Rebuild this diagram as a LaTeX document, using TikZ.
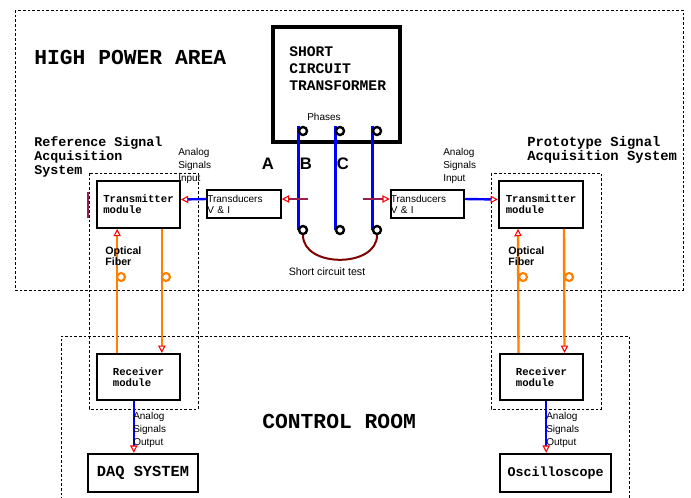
\documentclass[tikz,border=0pt]{standalone}
\usepackage{fontspec}
\setmainfont{Liberation Sans}
\setmonofont{Liberation Mono}
\usetikzlibrary{arrows.meta}
\definecolor{fiberorange}{RGB}{255,128,0}
\definecolor{arcred}{RGB}{128,0,0}
\definecolor{tapred}{RGB}{150,30,80}

\begin{document}
\begin{tikzpicture}[x=0.75pt, y=-0.75pt,
    area/.style={draw, line width=0.6pt, dash pattern=on 2pt off 1.5pt},
    module/.style={draw, line width=1.6pt, fill=white, align=left, inner sep=0pt, font=\ttfamily\bfseries\fontsize{8}{8.5}\selectfont},
    bigbox/.style={draw, line width=1.8pt, fill=white, inner sep=0pt, font=\ttfamily\bfseries},
    transd/.style={draw, line width=1.6pt, fill=white, align=left, inner sep=0pt, text width=55pt, minimum height=21pt, font=\fontsize{7.5}{8.25}\selectfont},
    terminal/.style={circle, draw, line width=1.8pt, fill=white, minimum size=6pt, inner sep=0pt},
    coil/.style={circle, draw=fiberorange, line width=1.6pt, minimum size=6pt, inner sep=0pt},
    phase/.style={blue, line width=1.8pt},
    fiber/.style={fiberorange, line width=1.8pt},
    tap/.style={tapred, line width=0.8pt},
    opentip/.style={-{Triangle[open, length=5.5pt, width=5.5pt, line width=0.8pt, color=red]}},
    note/.style={align=left, inner sep=0pt, font=\fontsize{7.5}{9.75}\selectfont}
]
  \useasboundingbox (0,0) rectangle (691,497);

  % areas
  \draw[area] (15,10) rectangle (683,290);
  \draw[area] (61,500) -- (61,336) -- (629,336) -- (629,500);
  \draw[area] (89,173) rectangle (198,409);
  \draw[area] (491,173) rectangle (601,409);
  \draw[tapred, line width=1pt] (88,192) -- (88,218);

  \node[anchor=west, inner sep=0pt, font=\ttfamily\bfseries\fontsize{16}{18}\selectfont] (hpa) at (34,57) {HIGH POWER AREA};
  \node[anchor=west, inner sep=0pt, font=\ttfamily\bfseries\fontsize{16}{18}\selectfont] (cr) at (262,421) {CONTROL ROOM};
  \node[anchor=west, align=left, inner sep=0pt, font=\ttfamily\bfseries\fontsize{10}{10.5}\selectfont] (refsys) at (34,157) {Reference Signal\\Acquisition\\System};
  \node[anchor=west, align=left, inner sep=0pt, font=\ttfamily\bfseries\fontsize{10.4}{8.5}\selectfont] (protsys) at (527,150) {Prototype Signal\\Acquisition System};

  % transformer and phases
  \node[draw, line width=3pt, minimum width=95pt, minimum height=86pt] (trafo) at (336.5,84.5) {};
  \node[anchor=west, align=left, inner sep=0pt, font=\ttfamily\bfseries\fontsize{11}{12.75}\selectfont] (trafotext) at (289,69) {SHORT\\CIRCUIT\\TRANSFORMER};
  \node[inner sep=0pt, font=\fontsize{7.5}{9}\selectfont] (phases) at (324,117) {Phases};

  \coordinate (ta) at (303,131);
  \coordinate (tb) at (340,131);
  \coordinate (tc) at (377,131);
  \coordinate (ba) at (303,230);
  \coordinate (bb) at (340,230);
  \coordinate (bc) at (377,230);
  \draw[phase] ([xshift=-3.5pt,yshift=4pt]ta) -- ([xshift=-3.5pt]ba);
  \draw[phase] ([xshift=-3.5pt,yshift=4pt]tb) -- ([xshift=-3.5pt]bb);
  \draw[phase] ([xshift=-3.5pt,yshift=4pt]tc) -- ([xshift=-3.5pt]bc);
  \foreach \t in {ta,tb,tc,ba,bb,bc}
    \node[terminal] (\t n) at (\t) {};
  \draw[arcred, line width=1.5pt] (ban.south) .. controls (303,268) and (377,268) .. (bcn.south);

  \node[font=\bfseries\fontsize{12.5}{14}\selectfont, inner sep=0pt] (la) at (268,164) {A};
  \node[font=\bfseries\fontsize{12.5}{14}\selectfont, inner sep=0pt] (lb) at (306,164) {B};
  \node[font=\bfseries\fontsize{12.5}{14}\selectfont, inner sep=0pt] (lc) at (343,164) {C};
  \node[inner sep=0pt, font=\fontsize{8}{9}\selectfont] (sct) at (327,272) {Short circuit test};

  % transducers
  \node[transd] (tl) at (244,204) {Transducers\\V \& I};
  \node[transd] (tr) at (427.5,204) {Transducers\\V \& I};
  \coordinate (tapA) at (308,199);
  \coordinate (tapC) at (363,199);
  \draw[tap, opentip] (tapA) -- ([yshift=3.75pt]tl.east);
  \draw[tap, opentip] (tapC) -- ([yshift=3.75pt]tr.west);

  % transmitters and receivers
  \node[module, minimum width=62pt, minimum height=35pt] (txl) at (138.5,204.5) {Transmitter\\module};
  \node[module, minimum width=63pt, minimum height=35pt] (txr) at (541,204.5) {Transmitter\\module};
  \node[module, minimum width=62pt, minimum height=34.5pt] (rxl) at (138.5,377) {Receiver\\module};
  \node[module, minimum width=62pt, minimum height=34.5pt] (rxr) at (541.5,377) {Receiver\\module};

  \draw[phase, opentip] ([yshift=3.75pt]tl.west) -- ([yshift=3.75pt]txl.east);
  \draw[phase, opentip] ([yshift=3.75pt]tr.east) -- ([yshift=3.75pt]txr.west);
  \node[note, anchor=west] (inl) at (178,166) {Analog\\Signals\\Input};
  \node[note, anchor=west] (inr) at (443,166) {Analog\\Signals\\Input};

  % optical fibers
  \draw[fiber, opentip] ([xshift=-16pt]rxl.north) -- ([xshift=-16pt]txl.south);
  \draw[fiber, opentip] ([xshift=17.5pt]txl.south) -- ([xshift=17.5pt]rxl.north);
  \draw[fiber, opentip] ([xshift=-17.25pt]rxr.north) -- ([xshift=-17.25pt]txr.south);
  \draw[fiber, opentip] ([xshift=17.25pt]txr.south) -- ([xshift=17.25pt]rxr.north);
  \node[coil] (cl1) at (121,277) {};
  \node[coil] (cl2) at (166,277) {};
  \node[coil] (cr1) at (523,277) {};
  \node[coil] (cr2) at (569,277) {};
  \node[anchor=west, align=left, inner sep=0pt, font=\bfseries\fontsize{8}{7}\selectfont] (ofl) at (105,256) {Optical\\Fiber};
  \node[anchor=west, align=left, inner sep=0pt, font=\bfseries\fontsize{8}{7}\selectfont] (ofr) at (508,256) {Optical\\Fiber};

  % outputs
  \node[bigbox, minimum width=82.5pt, minimum height=28.5pt, font=\ttfamily\bfseries\fontsize{11.5}{13}\selectfont] (daq) at (143,473) {DAQ SYSTEM};
  \node[bigbox, minimum width=83pt, minimum height=28.5pt, font=\ttfamily\bfseries\fontsize{10}{12}\selectfont] (osc) at (555.5,473) {Oscilloscope};
  \draw[phase, opentip] ([xshift=-3.5pt]rxl.south) -- ([xshift=-3.5pt]rxl.south |- daq.north);
  \draw[phase, opentip] ([xshift=3.5pt]rxr.south) -- ([xshift=3.5pt]rxr.south |- osc.north);
  \node[note, anchor=west] (outl) at (133,430) {Analog\\Signals\\Output};
  \node[note, anchor=west] (outr) at (546,430) {Analog\\Signals\\Output};
\end{tikzpicture}
\end{document}
